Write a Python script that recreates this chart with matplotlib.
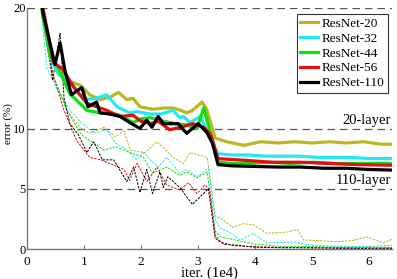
import matplotlib
matplotlib.use("Agg")
import matplotlib.pyplot as plt

# ---- data (iterations in 1e4, error in %) ----
names = ["ResNet-20", "ResNet-32", "ResNet-44", "ResNet-56", "ResNet-110"]
colors = ["#b8b820", "#22e8f8", "#10e010", "#e01010", "#000000"]

# test error (thick solid)
test_x_20 = [0.2, 0.4, 0.55, 0.75, 0.93, 1.1, 1.28, 1.46, 1.6, 1.75, 1.86, 1.98, 2.2, 2.4, 2.56, 2.7, 2.8, 2.9, 3.07, 3.15, 3.3, 3.5, 3.8, 4.1, 4.4, 4.7, 5.0, 5.3, 5.6, 5.9, 6.2, 6.4]
test_y_20 = [22, 16.5, 14.8, 13.9, 13.6, 12.8, 12.4, 12.6, 13.0, 12.4, 12.5, 11.8, 11.6, 11.7, 11.7, 11.5, 11.3, 11.5, 12.2, 11.6, 9.2, 8.9, 8.6, 8.9, 8.8, 8.9, 8.8, 8.9, 8.8, 8.9, 8.7, 8.7]
test_x_32 = [0.2, 0.4, 0.55, 0.75, 0.99, 1.2, 1.4, 1.58, 1.8, 1.92, 2.16, 2.35, 2.56, 2.68, 2.74, 2.86, 3.04, 3.2, 3.35, 3.6, 3.9, 4.2, 4.5, 4.8, 5.1, 5.4, 5.7, 6.0, 6.4]
test_y_32 = [22, 16.0, 14.5, 13.9, 12.4, 12.5, 12.8, 11.8, 11.3, 11.4, 11.2, 11.2, 11.5, 10.9, 11.0, 10.5, 11.0, 9.3, 7.9, 7.8, 7.8, 7.7, 7.7, 7.7, 7.6, 7.6, 7.6, 7.5, 7.5]
test_x_44 = [0.2, 0.4, 0.55, 0.75, 1.05, 1.28, 1.5, 1.63, 1.86, 2.0, 2.16, 2.4, 2.6, 2.8, 2.98, 3.1, 3.2, 3.35, 3.6, 3.9, 4.26, 4.6, 5.0, 5.4, 5.8, 6.4]
test_y_44 = [21.5, 16.0, 15.0, 12.9, 11.5, 11.3, 11.2, 11.1, 10.5, 10.8, 10.9, 10.6, 10.4, 10.3, 10.0, 11.7, 9.9, 7.2, 7.1, 7.1, 7.2, 7.1, 7.2, 7.1, 7.1, 7.1]
test_x_56 = [0.2, 0.46, 0.63, 0.81, 1.05, 1.4, 1.63, 1.86, 2.0, 2.16, 2.3, 2.5, 2.7, 2.9, 2.98, 3.1, 3.22, 3.35, 3.7, 4.0, 4.3, 4.8, 5.3, 5.8, 6.4]
test_y_56 = [22, 15.5, 14.9, 13.5, 12.1, 11.5, 11.0, 11.1, 10.6, 10.4, 10.6, 9.9, 10.1, 10.4, 10.3, 10.1, 9.5, 7.5, 7.4, 7.3, 7.2, 7.2, 7.1, 7.0, 6.95]
test_x_110 = [0.2, 0.28, 0.49, 0.58, 0.67, 0.78, 0.96, 1.07, 1.22, 1.28, 1.45, 1.63, 1.8, 1.98, 2.1, 2.19, 2.3, 2.39, 2.5, 2.65, 2.8, 3.0, 3.15, 3.25, 3.35, 3.6, 4.0, 4.4, 4.8, 5.2, 5.6, 6.0, 6.4]
test_y_110 = [23, 19.6, 15.3, 17.1, 14.7, 12.8, 13.4, 11.8, 12.2, 11.3, 11.2, 11.0, 10.5, 10.0, 10.7, 10.1, 11.0, 10.4, 10.4, 10.4, 9.6, 10.4, 9.7, 8.8, 7.0, 6.9, 6.85, 6.8, 6.8, 6.7, 6.7, 6.6, 6.55]

# training error (thin dashed)
train_x_20 = [0.2, 0.45, 0.7, 0.95, 1.1, 1.35, 1.55, 1.7, 1.81, 2.07, 2.28, 2.39, 2.56, 2.74, 2.86, 3.16, 3.3, 3.39, 3.6, 3.8, 3.97, 4.2, 4.55, 4.74, 4.85, 5.1, 5.44, 5.7, 5.96, 6.25, 6.4]
train_y_20 = [22, 14.5, 11.5, 10.0, 9.6, 10.1, 9.3, 9.8, 8.2, 8.0, 8.9, 8.4, 7.6, 7.1, 8.0, 7.6, 2.7, 2.6, 1.8, 2.1, 2.0, 1.3, 1.4, 1.6, 0.75, 0.7, 0.6, 0.7, 1.0, 0.5, 0.8]
train_x_32 = [0.2, 0.35, 0.5, 0.75, 0.95, 1.17, 1.4, 1.55, 1.75, 1.93, 2.05, 2.16, 2.3, 2.45, 2.68, 2.8, 2.98, 3.18, 3.3, 3.39, 3.55, 3.74, 3.97, 4.2, 4.5, 4.7, 4.9, 5.3, 5.8, 6.4]
train_y_32 = [22, 15.0, 13.5, 11.5, 10.5, 9.6, 9.9, 8.8, 8.2, 7.4, 8.0, 7.4, 6.8, 7.6, 6.3, 6.6, 6.0, 6.7, 2.5, 1.7, 1.4, 0.75, 1.3, 0.5, 0.55, 0.6, 0.35, 0.25, 0.2, 0.3]
train_x_44 = [0.2, 0.45, 0.7, 0.95, 1.1, 1.35, 1.55, 1.81, 2.04, 2.2, 2.45, 2.68, 2.8, 2.98, 3.16, 3.3, 3.39, 3.65, 4.0, 4.5, 5.0, 5.5, 6.0, 6.4]
train_y_44 = [22, 14.5, 11.5, 9.5, 9.0, 8.2, 8.5, 8.0, 7.6, 6.3, 6.8, 6.1, 6.4, 5.9, 6.4, 1.5, 1.0, 0.75, 0.4, 0.2, 0.2, 0.15, 0.15, 0.15]
train_x_56 = [0.2, 0.45, 0.65, 0.87, 1.1, 1.3, 1.5, 1.7, 1.8, 1.93, 2.1, 2.28, 2.45, 2.68, 2.83, 2.98, 3.12, 3.2, 3.3, 3.39, 3.6, 3.9, 4.3, 5.0, 5.5, 6.0, 6.4]
train_y_56 = [22, 14.5, 11.5, 9.0, 7.6, 7.4, 7.0, 6.6, 5.7, 7.1, 5.6, 6.8, 5.3, 4.9, 5.5, 4.6, 5.3, 5.0, 1.2, 0.6, 0.3, 0.2, 0.15, 0.1, 0.1, 0.08, 0.08]
train_x_110 = [0.2, 0.45, 0.58, 0.65, 0.75, 0.9, 1.05, 1.17, 1.32, 1.52, 1.75, 1.87, 1.98, 2.1, 2.2, 2.33, 2.39, 2.47, 2.68, 2.9, 3.18, 3.3, 3.45, 3.7, 4.0, 4.5, 5.0, 5.5, 6.0, 6.4]
train_y_110 = [22, 14.0, 17.9, 12.5, 10.4, 9.5, 8.0, 8.9, 7.4, 7.4, 5.6, 6.8, 4.7, 6.6, 4.6, 6.4, 5.1, 6.0, 5.1, 3.7, 5.0, 0.9, 0.4, 0.3, 0.15, 0.1, 0.1, 0.05, 0.05, 0.05]

x_ticks = [0, 1, 2, 3, 4, 5, 6]
y_ticks = [0, 5, 10, 20]

test_series = [(test_x_20, test_y_20), (test_x_32, test_y_32), (test_x_44, test_y_44),
               (test_x_56, test_y_56), (test_x_110, test_y_110)]
train_series = [(train_x_20, train_y_20), (train_x_32, train_y_32), (train_x_44, train_y_44),
                (train_x_56, train_y_56), (train_x_110, train_y_110)]

plt.rcParams['font.family'] = ['Liberation Serif', 'DejaVu Serif']

fig = plt.figure(figsize=(3.97, 2.79), dpi=100)
ax = fig.add_axes([27/397, 1 - 249/279, (392-27)/397, (249-8)/279])

for (x, y), c in zip(train_series, colors):
    ax.plot(x, y, color=c, lw=0.7, ls=(0, (2.5, 1.2)), zorder=2)
for (x, y), c, n in zip(test_series, colors, names):
    ax.plot(x, y, color=c, lw=2.3, label=n, zorder=3)

for yv in [5, 10, 20]:
    ax.axhline(yv, color='#555555', lw=0.9, ls=(0, (6, 4)), zorder=1)

ax.set_xlim(0, 6.4)
ax.set_ylim(0, 20)
ax.set_xticks(x_ticks)
ax.set_yticks(y_ticks)
ax.tick_params(labelsize=9, length=3, width=0.6, direction='in', pad=1, color='#555555')
ax.tick_params(axis='x', labelsize=9.5, pad=5)
for s in ['top', 'right']:
    ax.spines[s].set_visible(False)
for s in ['left', 'bottom']:
    ax.spines[s].set_color('#777777')
    ax.spines[s].set_linewidth(1.0)

ax.set_xlabel('iter. (1e4)', fontsize=10.5, labelpad=-1)
ax.set_ylabel('error (%)', fontsize=8)
ax.yaxis.set_label_coords(-0.0385, 0.52)

ax.text(5.95, 10.15, '20-layer', fontsize=10.5, ha='center', va='bottom')
ax.text(5.9, 5.15, '110-layer', fontsize=10.5, ha='center', va='bottom')

leg = ax.legend(loc='upper right', bbox_to_anchor=(0.995, 0.985), fontsize=9.5,
                frameon=True, fancybox=False, handlelength=1.35, handletextpad=0.25,
                labelspacing=0.2, borderpad=0.25, borderaxespad=0.2)
leg.get_frame().set_edgecolor('black')
leg.get_frame().set_linewidth(0.8)

fig.savefig('out.png', dpi=100)
